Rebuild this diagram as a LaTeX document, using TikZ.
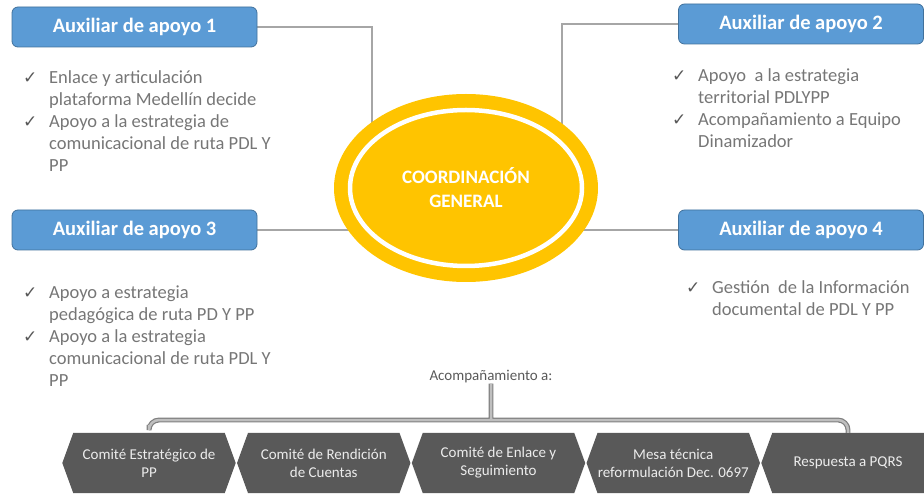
\documentclass[tikz,border=0pt]{standalone}
\usepackage{fontspec}
\setmainfont{Carlito}
\newfontfamily\checkfont{DejaVu Sans}
\usetikzlibrary{shapes.geometric,backgrounds}

\definecolor{AuxBlue}{RGB}{91,155,213}
\definecolor{AuxLine}{RGB}{65,113,156}
\definecolor{LinkGray}{RGB}{166,166,166}
\definecolor{CoordYellow}{RGB}{255,196,0}
\definecolor{ListGray}{RGB}{118,118,118}
\definecolor{CheckGray}{RGB}{89,89,89}
\definecolor{HexGray}{RGB}{89,89,89}
\definecolor{HexText}{RGB}{236,236,236}
\definecolor{BracketDark}{RGB}{127,127,127}
\definecolor{BracketLight}{RGB}{191,191,191}

\newcommand{\chk}{\makebox[26pt][l]{\checkfont\fontsize{17}{17}\selectfont\color{CheckGray}✓}}
\newcommand{\ind}{\hspace*{26pt}}

\begin{document}
\begin{tikzpicture}[x=1pt,y=-1pt]
  \tikzset{AuxStyle/.style = {
    shape         = rectangle,
    rounded corners = 6pt,
    fill          = AuxBlue,
    draw          = AuxLine,
    line width    = 0.8pt,
    text          = white,
    font          = \fontsize{20.5}{24}\selectfont\bfseries,
    minimum width = 245pt,
    minimum height = 40pt,
    inner sep     = 0pt
    }
  }
  \tikzset{CoordStyle/.style = {
    shape         = ellipse,
    fill          = CoordYellow,
    text          = white,
    font          = \fontsize{19}{24}\selectfont\bfseries,
    align         = center,
    minimum width = 264pt,
    minimum height = 188pt,
    inner sep     = 0pt
    }
  }
  \tikzset{RingStyle/.style = {
    draw          = white,
    line width    = 4.5pt
    }
  }
  \tikzset{LinkStyle/.style = {
    draw          = LinkGray,
    line width    = 2pt
    }
  }
  \tikzset{ListStyle/.style = {
    anchor        = base west,
    inner sep     = 0pt,
    text          = ListGray,
    font          = \fontsize{18.5}{22}\selectfont
    }
  }
  \tikzset{HexStyle/.style = {
    minimum width = 151pt,
    minimum height = 60pt,
    inner sep     = 0pt,
    align         = center,
    text          = HexText,
    font          = \fontsize{15}{18}\selectfont
    }
  }
  \tikzset{BracketStyle/.style = {
    draw            = BracketDark,
    line width      = 1.2pt,
    double          = BracketLight,
    double distance = 2.5pt,
    rounded corners = 10pt
    }
  }

  \clip (0,0) rectangle (924,494);

	\node[AuxStyle](aux1) at (134.5, 27) {Auxiliar de apoyo 1};
	\node[AuxStyle](aux2) at (801, 24) {Auxiliar de apoyo 2};
	\node[AuxStyle](aux3) at (134.5, 230) {Auxiliar de apoyo 3};
	\node[AuxStyle](aux4) at (801, 230) {Auxiliar de apoyo 4};

	\node[CoordStyle](coord) at (466, 188) {COORDINACIÓN\\GENERAL};
	\draw[RingStyle] (coord.center) ellipse [x radius=116pt, y radius=78pt];
	\coordinate (j1) at (372, 150);
	\coordinate (j2) at (562, 150);

	\node[ListStyle](list1) at (23, 84) {\begin{tabular}[t]{@{}l@{}}
	  \chk Enlace y articulación\\
	  \ind plataforma Medellín decide\\
	  \chk Apoyo a la estrategia de\\
	  \ind comunicacional de ruta PDL Y\\
	  \ind PP
	\end{tabular}};
	\node[ListStyle](list2) at (672, 82) {\begin{tabular}[t]{@{}l@{}}
	  \chk Apoyo\ \ a la estrategia\\
	  \ind territorial PDLYPP\\
	  \chk Acompañamiento a Equipo\\
	  \ind Dinamizador
	\end{tabular}};
	\node[ListStyle](list3) at (23, 299) {\begin{tabular}[t]{@{}l@{}}
	  \chk Apoyo a estrategia\\
	  \ind pedagógica de ruta PD Y PP\\
	  \chk Apoyo a la estrategia\\
	  \ind comunicacional de ruta PDL Y\\
	  \ind PP
	\end{tabular}};
	\node[ListStyle](list4) at (686, 294) {\begin{tabular}[t]{@{}l@{}}
	  \chk Gestión\ \ de la Información\\
	  \ind documental de PDL Y PP
	\end{tabular}};

	\node[HexStyle](hex1) at (149, 463) {Comité Estratégico de\\PP};
	\node[HexStyle](hex2) at (323.75, 463) {Comité de Rendición\\de Cuentas};
	\node[HexStyle](hex3) at (498.5, 463) {Comité de Enlace y\\Seguimiento};
	\node[HexStyle](hex4) at (673.25, 463) {Mesa técnica\\reformulación Dec. 0697};
	\node[HexStyle](hex5) at (848, 463) {Respuesta a PQRS};

	\node[text=CheckGray, inner sep=0pt, font=\fontsize{15}{18}\selectfont](acomp) at (491, 377) {Acompañamiento a:};
	\coordinate (hub) at (491, 420);
	\draw[BracketStyle, shorten <=8pt] (acomp.south) -- (hub)
	  (hex1.north) |- (hub) -| (hex5.north);

  \begin{pgfonlayer}{background}
	\draw[LinkStyle] (aux1.east) -| (j1);
	\draw[LinkStyle] (aux2.west) -| (j2);
	\draw[LinkStyle] (aux3.east) -- (aux3.east -| coord.center);
	\draw[LinkStyle] (aux4.west) -- (aux4.west -| coord.center);
	\foreach \h in {hex1,hex2,hex3,hex4,hex5}
	  \fill[HexGray] (\h.north west) -- (\h.north east) -- ([xshift=11pt]\h.east)
	    -- (\h.south east) -- (\h.south west) -- ([xshift=-11pt]\h.west) -- cycle;
  \end{pgfonlayer}

\end{tikzpicture}
\end{document}
